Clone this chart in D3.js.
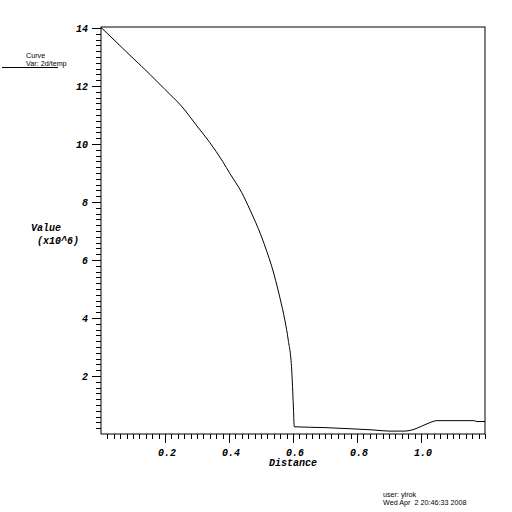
<!DOCTYPE html>
<html>
<head>
<meta charset="utf-8">
<script src="https://cdn.jsdelivr.net/npm/d3@7"></script>
<style>
  body { margin: 0; background: white; }
  .tick-lab { font-family: "Liberation Mono", monospace; font-weight: bold; font-style: italic; font-size: 10px; }
  .small { font-family: "Liberation Sans", sans-serif; font-size: 7.2px; }
</style>
</head>
<body>
<div id="chart"></div>
<script>
// curve values (Var: 2d/temp)
const distance = [0, 0.05, 0.1, 0.153, 0.2, 0.252, 0.3, 0.34, 0.38, 0.403, 0.44, 0.466, 0.5, 0.518,
  0.533, 0.559, 0.575, 0.585, 0.596, 0.601, 0.604, 0.7, 0.8, 0.85, 0.9, 0.95, 0.975, 1.0, 1.025, 1.05,
  1.165, 1.175, 1.2];
const value = [14.02, 13.49, 12.96, 12.4, 11.88, 11.3, 10.62, 10.05, 9.4, 8.98, 8.32, 7.72, 6.85, 6.3,
  5.8, 4.7, 3.9, 3.25, 2.2, 1.0, 0.25, 0.22, 0.17, 0.14, 0.1, 0.1, 0.15, 0.26, 0.38, 0.46,
  0.46, 0.43, 0.43];
const xTicks = [0.2, 0.4, 0.6, 0.8, 1.0];
const yTicks = [2, 4, 6, 8, 10, 12, 14];

const svg = d3.select("#chart").append("svg")
    .attr("width", 512)
    .attr("height", 512)
    .style("background-color", "white");

const x = d3.scaleLinear().domain([0, 1.2]).range([101, 485]);
const y = d3.scaleLinear().domain([0, 14]).range([434, 28]);

// box
svg.append("rect")
    .attr("x", x(0)).attr("y", y(14) - 1)
    .attr("width", x(1.2) - x(0)).attr("height", y(0) - y(14) + 1)
    .attr("fill", "none").attr("stroke", "#000").attr("stroke-width", 1);

// minor ticks
const xMinor = d3.range(0, 1.2001, 0.02).filter(d => d > 0.001);
svg.append("g").selectAll("line").data(xMinor).enter().append("line")
    .attr("x1", d => Math.round(x(d)) + 0.5).attr("x2", d => Math.round(x(d)) + 0.5)
    .attr("y1", y(0)).attr("y2", d => y(0) + (xTicks.some(t => Math.abs(t - d) < 1e-6) ? 9 : 5))
    .attr("stroke", "#000");

const yMinor = d3.range(0, 14.001, 0.2).filter(d => d > 0.001);
svg.append("g").selectAll("line").data(yMinor).enter().append("line")
    .attr("y1", d => Math.round(y(d)) + 0.5).attr("y2", d => Math.round(y(d)) + 0.5)
    .attr("x1", x(0)).attr("x2", d => x(0) - (yTicks.some(t => Math.abs(t - d) < 1e-6) ? 9 : 5))
    .attr("stroke", "#000");

// tick labels
svg.append("g").selectAll("text").data(xTicks).enter().append("text")
    .attr("class", "tick-lab")
    .attr("x", d => x(d) + 2).attr("y", 456)
    .attr("text-anchor", "middle")
    .text(d => d.toFixed(1));

svg.append("g").selectAll("text").data(yTicks).enter().append("text")
    .attr("class", "tick-lab")
    .attr("x", 88).attr("y", d => y(d) + 4)
    .attr("text-anchor", "end")
    .text(d => d);

// axis titles
svg.append("text").attr("class", "tick-lab").attr("x", 293).attr("y", 466)
    .attr("text-anchor", "middle").text("Distance");
svg.append("text").attr("class", "tick-lab").attr("x", 31).attr("y", 231).text("Value");
svg.append("text").attr("class", "tick-lab").attr("x", 37).attr("y", 244).text("(x10^6)");

// curve
const line = d3.line()
    .x((d, i) => x(distance[i]))
    .y(d => y(d))
    .curve(d3.curveMonotoneX);
svg.append("path")
    .datum(value)
    .attr("d", line)
    .attr("fill", "none")
    .attr("stroke", "#000")
    .attr("stroke-width", 1);

// legend
svg.append("text").attr("class", "small").attr("x", 26).attr("y", 58).text("Curve");
svg.append("text").attr("class", "small").attr("x", 26).attr("y", 66).text("Var: 2d/temp");
svg.append("line").attr("x1", 2).attr("x2", 58).attr("y1", 67.5).attr("y2", 67.5)
    .attr("stroke", "#000");

// footer
svg.append("text").attr("class", "small").attr("x", 383).attr("y", 497).text("user: ylrok");
svg.append("text").attr("class", "small").attr("x", 383).attr("y", 505)
    .attr("xml:space", "preserve").text("Wed Apr  2 20:46:33 2008");
</script>
</body>
</html>
